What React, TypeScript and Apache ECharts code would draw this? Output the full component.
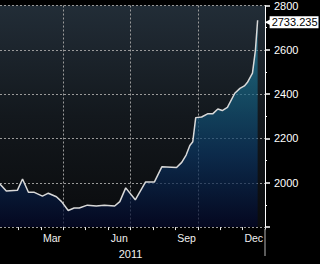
import React, { useEffect, useRef } from "react";
import * as echarts from "echarts";

const dates = [
  "2011-01-06", "2011-01-15", "2011-01-30", "2011-02-06", "2011-02-14", "2011-02-22",
  "2011-03-05", "2011-03-13", "2011-03-24", "2011-03-31", "2011-04-09", "2011-04-17",
  "2011-04-24", "2011-05-05", "2011-05-17", "2011-05-28", "2011-06-11", "2011-06-18",
  "2011-06-26", "2011-07-09", "2011-07-23", "2011-08-04", "2011-08-14", "2011-09-03",
  "2011-09-10", "2011-09-16", "2011-09-21", "2011-09-25", "2011-09-29", "2011-10-07",
  "2011-10-15", "2011-10-22", "2011-10-29", "2011-11-04", "2011-11-11", "2011-11-21",
  "2011-11-28", "2011-12-04", "2011-12-08", "2011-12-15", "2011-12-19", "2011-12-22",
];
const values = [
  1996, 1963, 1966, 2017, 1957, 1957,
  1940, 1953, 1937, 1915, 1875, 1886,
  1886, 1899, 1895, 1899, 1895, 1915,
  1977, 1923, 2004, 2004, 2072, 2069,
  2092, 2125, 2168, 2185, 2294, 2297,
  2311, 2311, 2333, 2326, 2340, 2404,
  2426, 2437, 2452, 2495, 2598, 2733.235,
];
const monthNames = ["Jan", "Feb", "Mar", "Apr", "May", "Jun", "Jul", "Aug", "Sep", "Oct", "Nov", "Dec"];
const labeledMonths = ["Mar", "Jun", "Sep", "Dec"];
const quarterStarts = ["Apr", "Jul", "Oct"];
const yearLabel = "2011";
const yMin = 1800;
const yMax = 2800;
const yStep = 200;

// half-month slots: "Jan 1", "Jan 16", ..., "Dec 16", "Jan 1 2012"
const slots: string[] = [];
monthNames.forEach((m) => {
  slots.push(m + " 1");
  slots.push(m + " 16");
});
slots.push("Jan 1 2012");

export default function App() {
  const ref = useRef<HTMLDivElement>(null);
  useEffect(() => {
    if (!ref.current) return;
    const chart = echarts.init(ref.current, undefined, { renderer: "svg" });
    const grid = "#9a9a9a";
    const lastIdx = values.length - 1;
    chart.setOption({
      animation: false,
      backgroundColor: "#000",
      textStyle: { fontFamily: "Liberation Sans, Arial, sans-serif" },
      grid: {
        left: 0,
        right: 55,
        top: 3,
        bottom: 28.5,
        show: true,
        borderWidth: 0,
        backgroundColor: new echarts.graphic.LinearGradient(0, 0, 0, 1, [
          { offset: 0, color: "#222d37" },
          { offset: 0.5, color: "#13181d" },
          { offset: 1, color: "#0a0b0d" },
        ]),
      },
      xAxis: [
        {
          type: "category",
          data: slots,
          boundaryGap: false,
          position: "bottom",
          axisLine: { show: false },
          axisTick: {
            show: true,
            length: 3,
            interval: (i: number) => i % 2 === 0,
            lineStyle: { color: "#e6e6e6", width: 1 },
          },
          axisLabel: {
            show: true,
            interval: (i: number, v: string) => i % 2 === 1 && labeledMonths.includes(v.split(" ")[0]),
            formatter: (v: string) => v.split(" ")[0],
            color: "#f0f0f0",
            fontSize: 10.5,
            margin: 5,
          },
          splitLine: {
            show: true,
            interval: (i: number, v: string) => i % 2 === 0 && quarterStarts.includes(v.split(" ")[0]) && !v.includes("2012"),
            lineStyle: { color: grid, type: [2, 2], width: 1 },
          },
          name: yearLabel,
          nameLocation: "middle",
          nameGap: 17,
          nameTextStyle: { color: "#f0f0f0", fontSize: 11 },
        },
        {
          type: "time",
          min: "2011-01-01",
          max: "2012-01-01",
          show: false,
        },
        {
          type: "category",
          data: ["2011", "2012"],
          boundaryGap: false,
          position: "bottom",
          offset: 2,
          axisLine: { show: false },
          axisLabel: { show: false },
          axisTick: { show: true, length: 27, lineStyle: { color: "#7a7a7a", width: 1.5 } },
          splitLine: { show: false },
        },
      ],
      yAxis: {
        type: "value",
        position: "right",
        min: yMin,
        max: yMax,
        interval: yStep,
        axisLine: { show: true, lineStyle: { color: "#ffffff", width: 1 } },
        axisTick: { show: true, length: 5, lineStyle: { color: "#ffffff", width: 1.5 } },
        minorTick: { show: true, splitNumber: 2, length: 2, lineStyle: { color: "#ffffff", width: 1 } },
        axisLabel: {
          color: "#ffffff",
          fontSize: 11,
          margin: 9,
          formatter: (v: number) => (v === yMin ? "" : String(v)),
        },
        splitLine: { show: true, lineStyle: { color: grid, type: [2, 2], width: 1 } },
      },
      series: [
        {
          type: "line",
          xAxisIndex: 1,
          yAxisIndex: 0,
          data: dates.map((d, i) => [d, values[i]]),
          showSymbol: false,
          symbol: "none",
          lineStyle: { color: "#d9d9d9", width: 1.5 },
          areaStyle: {
            color: new echarts.graphic.LinearGradient(0, 0, 0, 1, [
              { offset: 0, color: "#2a8eae" },
              { offset: 0.35, color: "#15607f" },
              { offset: 0.65, color: "#0a3460" },
              { offset: 1, color: "#020628" },
            ]),
          },
          endLabel: {
            show: true,
            formatter: () => values[lastIdx].toFixed(3),
            backgroundColor: "#ffffff",
            color: "#000000",
            fontSize: 11,
            padding: [1, 1, 0, 2],
            distance: 12,
            offset: [0, 2],
          },
          markPoint: {
            symbol: "triangle",
            symbolSize: [6, 6],
            symbolRotate: 90,
            symbolOffset: [10, 2],
            itemStyle: { color: "#ffffff" },
            label: { show: false },
            data: [{ coord: [dates[lastIdx], values[lastIdx]] }],
          },
        },
      ],
    });
    return () => chart.dispose();
  }, []);
  return (
    <div
      ref={ref}
      style={{ position: "absolute", left: -4, top: 0, width: 324, height: 264 }}
    />
  );
}
